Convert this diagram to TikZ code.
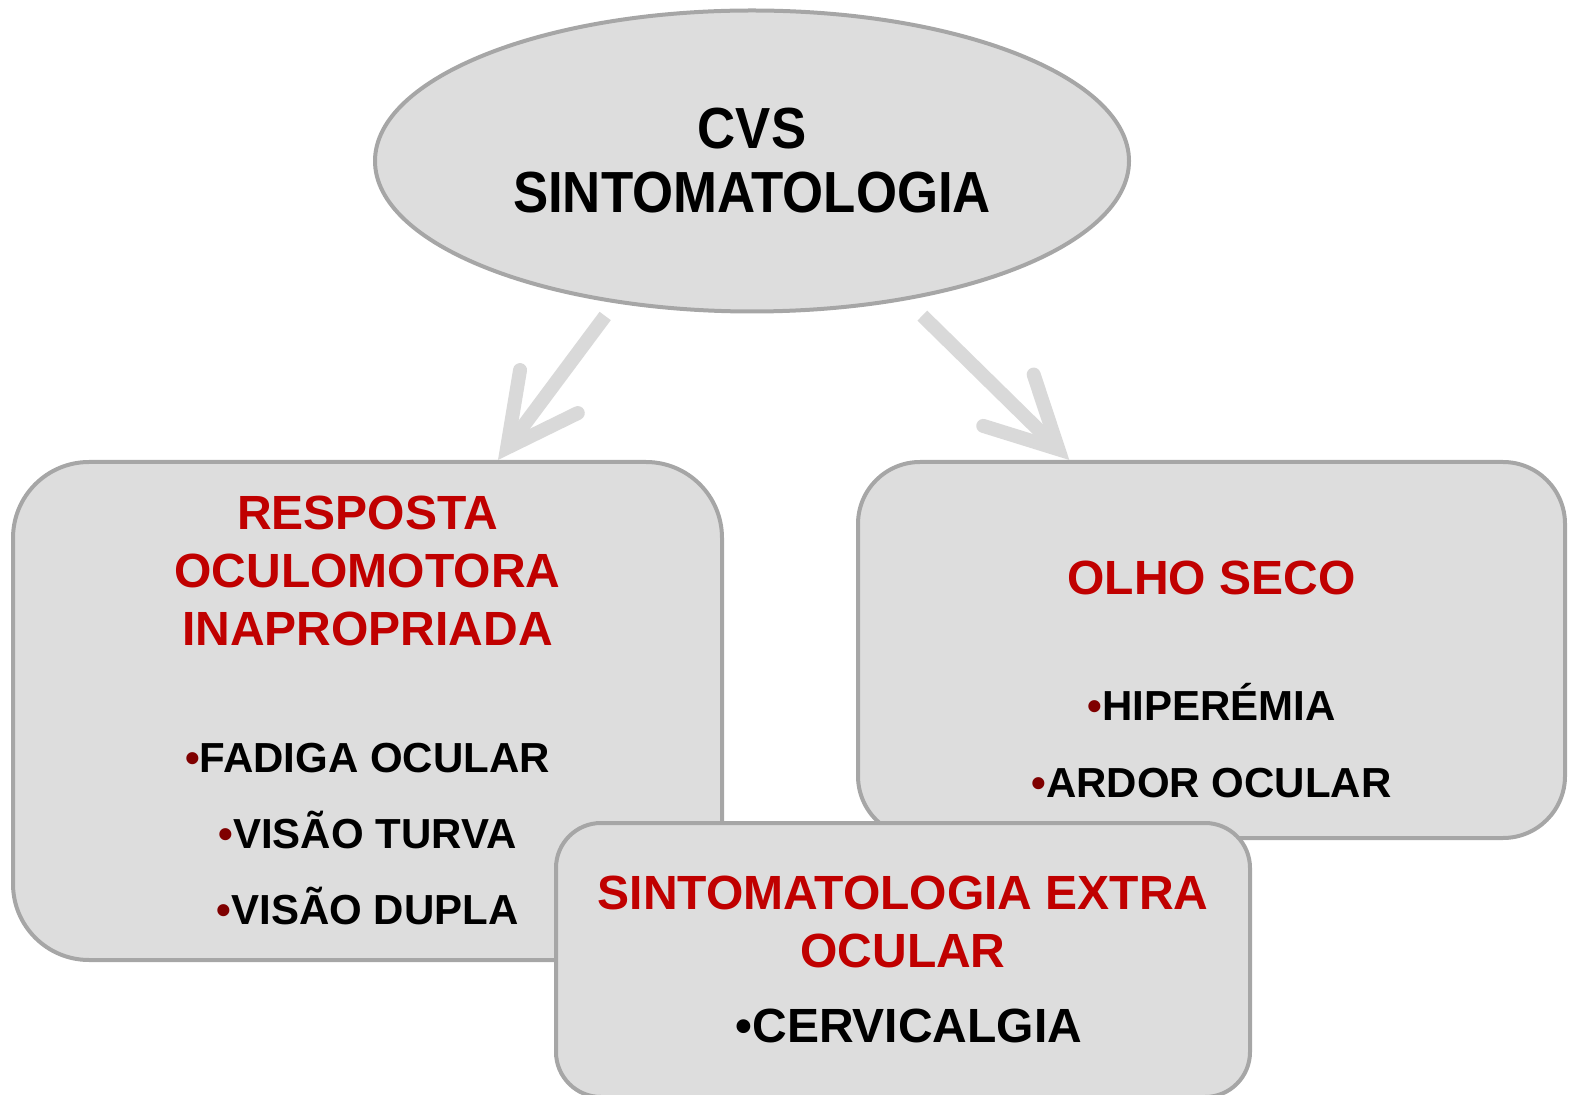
\documentclass[tikz,border=0pt]{standalone}
\usepackage{fontspec}
\setmainfont{Liberation Sans}
\newfontfamily\narrowfont[FakeStretch=0.91]{Liberation Sans}
\usetikzlibrary{arrows.meta, positioning, shapes.geometric, calc}

\definecolor{boxfill}{HTML}{DDDDDD}
\definecolor{boxline}{HTML}{A6A6A6}
\definecolor{arrowgray}{HTML}{D9D9D9}
\definecolor{titlered}{HTML}{C00000}
\definecolor{bulletred}{HTML}{7F0000}

\newcommand{\reddot}{\textcolor{bulletred}{•}}

\tikzset{
  panel/.style={draw=boxline, line width=2pt, fill=boxfill,
                rounded corners=#1, inner sep=0pt},
  panel/.default=38pt,
  heading/.style={text=titlered, align=center, inner sep=0pt, outer sep=0pt,
                  font=\bfseries\fontsize{24}{29}\selectfont},
  items/.style={align=center, inner sep=0pt, outer sep=0pt,
                font=\bfseries\fontsize{21}{#1}\selectfont},
  items/.default=38pt,
  flow/.style={draw=arrowgray, line width=7pt,
               -{Straight Barb[length=35pt, width=36pt,
                 line cap=round, line join=miter]}}
}

\begin{document}
\begin{tikzpicture}[x=0.5pt, y=-0.5pt]
  \useasboundingbox (0,0) rectangle (1573,1095);

  % top ellipse
  \node[ellipse, draw=boxline, line width=2pt, fill=boxfill,
        minimum width=377pt, minimum height=150.5pt, align=center,
        font=\narrowfont\bfseries\fontsize{29}{32}\selectfont]
        (cvs) at (752,161) {CVS\\SINTOMATOLOGIA};

  % left box
  \node[panel=38pt, minimum width=354.5pt, minimum height=249pt]
        (resp) at (367.5,711) {};
  \node[heading, below=18pt of resp.north] (resptitle)
    {RESPOSTA\\OCULOMOTORA\\INAPROPRIADA};
  \node[items, below=48.5pt of resptitle] (respitems)
    {\reddot FADIGA OCULAR\\\reddot VISÃO TURVA\\\reddot VISÃO DUPLA};

  % right box
  \node[panel=31pt, minimum width=353.5pt, minimum height=188pt]
        (olho) at (1211.5,650) {};
  \node[heading, below=50.5pt of olho.north] (olhotitle) {OLHO SECO};
  \node[items=38.5pt, below=44pt of olhotitle] (olhoitems)
    {\reddot HIPERÉMIA\\\reddot ARDOR OCULAR};

  % bottom box, over the other two
  \node[panel=22.5pt, minimum width=347pt, minimum height=137pt]
        (extra) at (903,960) {};
  \node[heading, below=27.5pt of extra.north] (extratitle)
    {SINTOMATOLOGIA EXTRA\\OCULAR};
  \node[below=20.5pt of extratitle, xshift=3pt, inner sep=0pt,
        font=\bfseries\fontsize{24}{29}\selectfont] (extraitem)
    {•CERVICALGIA};

  \draw[flow, shorten <=8pt] (cvs.226)
    -- ($(resp.north west)!0.683!(resp.north east)$);
  \draw[flow, shorten <=11pt] (cvs.318)
    -- ($(olho.north west)!0.30!(olho.north east)$);
\end{tikzpicture}
\end{document}
